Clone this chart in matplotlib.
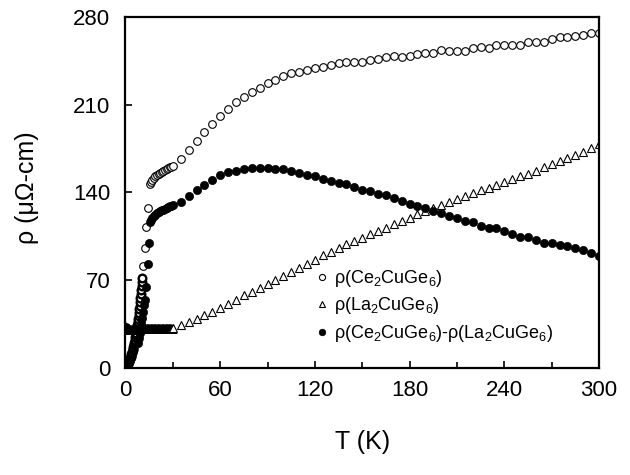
import matplotlib
matplotlib.use("Agg")
import matplotlib.pyplot as plt
from matplotlib.ticker import MultipleLocator

plt.rcParams['font.family'] = ['Liberation Sans', 'DejaVu Sans']
plt.rcParams['mathtext.fontset'] = 'custom'
plt.rcParams['mathtext.rm'] = 'Liberation Sans'
plt.rcParams['mathtext.it'] = 'Liberation Sans:italic'
plt.rcParams['mathtext.default'] = 'regular'

# ---------------- data ----------------
# rho(Ce2CuGe6): low-T dense part
ce_T_low = [0.5, 0.75, 1.0, 1.25, 1.5, 1.75, 2.0, 2.25, 2.5, 2.75, 3.0, 3.25,
            3.5, 3.75, 4.0, 4.25, 4.5, 4.75, 5.0, 5.25, 5.5, 5.75, 6.0, 6.25,
            6.5, 6.75, 7.0, 7.25, 7.5, 7.75, 8.0, 8.25, 8.5, 8.75, 9.0, 9.25,
            9.5, 9.75, 10.0, 10.25, 10.5, 10.75]
ce_rho_low = [0.8, 1.3, 1.8, 2.4, 3.0, 3.7, 4.4, 5.2, 6.0, 6.9, 7.8, 8.7,
              9.7, 10.8, 11.9, 13.0, 14.2, 15.5, 16.8, 18.2, 19.6, 21.1, 22.7,
              24.4, 26.2, 28.1, 30.1, 32.2, 34.4, 36.7, 39.1, 41.6, 44.2, 46.9,
              49.7, 52.6, 55.6, 58.7, 61.9, 65.2, 68.6, 72.0]
ce_T_tr = [11.0, 12.2, 13.3, 14.5]
ce_rho_tr = [81, 96, 112.7, 128]
# dense 15.5 - 30 K
ce_T_mid = [15.5, 16, 17, 18, 19, 20, 21, 22, 23, 24, 25, 26, 27, 28, 29, 30]
ce_rho_mid = [147, 148.3, 150, 151.5, 152.8, 154, 155, 155.8, 156.6, 157.3,
              158, 158.7, 159.4, 160, 160.6, 161.2]
# sparse 35 - 300 K
T_sparse = [35, 40, 45, 50, 55, 60, 65, 70, 75, 80, 85, 90, 95, 100, 105,
            110, 115, 120, 125, 130, 135, 140, 145, 150, 155, 160, 165, 170,
            175, 180, 185, 190, 195, 200, 205, 210, 215, 220, 225, 230, 235,
            240, 245, 250, 255, 260, 265, 270, 275, 280, 285, 290, 295, 300]
ce_rho_sparse = [167, 173.8, 181, 188, 194.5, 201, 207, 212, 216.3, 220, 223.5,
                 227, 230, 232.8, 235, 236.3, 237.6, 239, 240.2, 241.8, 243.2,
                 244.2, 244.3, 244.4, 246, 246.2, 248.3, 248.8, 248.4, 248.7,
                 250.8, 251, 251.1, 253.4, 253.1, 253, 253, 255.5, 255.7, 255.2,
                 257.8, 257.7, 257.6, 258, 260, 260.2, 260.2, 262.5, 264, 264.2,
                 264.9, 265.5, 267.2, 267.5]

# rho(La2CuGe6)
la_T_low = [0.5, 1.0, 1.5, 2.0, 2.5, 3.0, 3.5, 4.0, 4.5, 5.0, 5.5, 6.0, 6.5,
            7.0, 7.5, 8.0, 8.5, 9.0, 9.5, 10.0, 10.5, 11.0, 11.5, 12.0, 12.5,
            13.0, 13.5, 14.0, 14.5, 15.0, 15.5, 16.0, 16.5, 17.0, 17.5, 18.0,
            18.5, 19.0, 19.5, 20.0, 20.5, 21.0, 21.5, 22.0, 22.5, 23.0, 23.5,
            24.0, 24.5, 25.0, 25.5, 26.0, 26.5, 27.0, 27.5, 28.0, 28.5, 29.0,
            29.5]
la_rho_low = [33.0, 32.0, 31.5, 31.0, 30.8, 30.7, 30.6, 30.6, 30.6, 30.7, 30.7,
              30.7, 30.7, 30.7, 30.8, 30.8, 30.8, 30.8, 30.8, 30.9, 30.9, 30.9,
              30.9, 30.9, 30.9, 31.0, 31.0, 31.0, 31.0, 31.0, 31.0, 31.0, 31.0,
              31.1, 31.1, 31.1, 31.1, 31.1, 31.1, 31.1, 31.1, 31.2, 31.2, 31.2,
              31.2, 31.2, 31.2, 31.2, 31.2, 31.3, 31.3, 31.3, 31.3, 31.3, 31.3,
              31.4, 31.4, 31.4, 31.4]
la_T_sparse = [30] + T_sparse
la_rho_sparse = [31.5, 34, 36.7, 39.4, 42, 44.8, 48, 51.4, 54.6, 58, 61, 64, 67,
                 70, 73.3, 76.6, 80, 83.3, 86.5, 89.8, 92.5, 95.8, 98.6, 101.3,
                 104, 106.7, 109.3, 112, 114.6, 117.2, 119.8, 122.5, 125.5, 127.3,
                 129.8, 132.3, 134.6, 137, 139.2, 141.6, 143.9, 146.2, 148.7, 151,
                 153, 155, 157.5, 160, 162.6, 165, 167.5, 169.6, 172, 175.5, 178.3]

# rho(Ce2CuGe6) - rho(La2CuGe6)
d_T_low = [8.0, 8.5, 9.0, 9.5, 10.0, 10.5, 11.0, 11.5, 12.2, 13.2, 14.0, 14.6]
d_rho_low = [20, 24, 28, 32, 36, 40, 45, 50, 54, 65, 83, 100]
d_T_mid = ce_T_mid
d_rho_mid = [116.7, 118, 119.8, 121.2, 122.4, 123.4, 124.3, 125, 125.7, 126.4,
             127, 127.7, 128.3, 129, 129.6, 130.2]
d_rho_sparse = [132.6, 137, 141.6, 146, 150.2, 153.7, 156, 157.3, 158.4, 159.2,
                159.7, 159.5, 159, 158.4, 156.8, 155.4, 153.8, 153, 150.6, 149,
                147.4, 146.6, 144.2, 141.7, 140.8, 139, 137.8, 135.6, 133, 131,
                129.3, 127.6, 125, 124, 121.6, 119.7, 117.5, 116.8, 113.5, 111.7,
                111.4, 109.6, 106.6, 104.5, 104.2, 102, 99.7, 99.8, 98.3, 97.5,
                95.8, 93.8, 91.8, 89]

labels = [r'ρ(Ce$_2$CuGe$_6$)', r'ρ(La$_2$CuGe$_6$)',
          r'ρ(Ce$_2$CuGe$_6$)-ρ(La$_2$CuGe$_6$)']
x_ticks = [0, 60, 120, 180, 240, 300]
y_ticks = [0, 70, 140, 210, 280]

# ---------------- figure ----------------
fig = plt.figure(figsize=(6.3, 4.75), dpi=100)
ax = fig.add_axes([0.1992, 0.2253, 0.7516, 0.7389])

open_c = dict(marker='o', ls='none', mfc='white', mec='black', mew=0.8, ms=5.5)
tri = dict(marker='^', ls='none', mfc='white', mec='black', mew=0.8, ms=5.8)
fill_c = dict(marker='o', ls='none', mfc='black', mec='black', mew=0.5, ms=5.9)
dense_open = dict(open_c, mew=1.7)
dense_tri = dict(tri, mew=1.4)

ax.plot(ce_T_low, ce_rho_low, **dense_open)
ax.plot(ce_T_tr, ce_rho_tr, **open_c)
ax.plot(ce_T_mid, ce_rho_mid, **open_c)
h1, = ax.plot(T_sparse, ce_rho_sparse, label=labels[0], **open_c)

ax.plot(la_T_low, la_rho_low, **dense_tri)
h2, = ax.plot(la_T_sparse, la_rho_sparse, label=labels[1], **tri)

ax.plot(d_T_low, d_rho_low, **fill_c)
ax.plot(d_T_mid, d_rho_mid, **fill_c)
h3, = ax.plot(T_sparse, d_rho_sparse, label=labels[2], **fill_c)

ax.set_xlim(0, 300)
ax.set_ylim(0, 280)
ax.set_xticks(x_ticks)
ax.set_yticks(y_ticks)
ax.xaxis.set_minor_locator(MultipleLocator(30))
ax.tick_params(axis='both', which='both', direction='in', width=1.2,
               labelsize=16)
ax.tick_params(axis='both', which='major', length=5)
ax.tick_params(axis='both', which='minor', length=4)
ax.tick_params(axis='x', pad=9)
ax.tick_params(axis='y', pad=11)
for s in ax.spines.values():
    s.set_linewidth(1.6)

ax.set_xlabel('T (K)', fontsize=18)
ax.xaxis.label.set_va('center')
ax.xaxis.set_label_coords(0.5, -0.211)
ax.set_ylabel('ρ (μΩ-cm)', fontsize=18)
ax.yaxis.label.set_va('center')
ax.yaxis.set_label_coords(-0.208, 0.515)

leg = ax.legend(handles=[h1, h2, h3], loc='upper left',
                bbox_to_anchor=(315 / 630, 1 - 268 / 475),
                bbox_transform=fig.transFigure, frameon=False, fontsize=13,
                handlelength=0.8, handletextpad=0.25, borderpad=0,
                borderaxespad=0, labelspacing=0.36, markerscale=0.8)

fig.savefig('out.png', dpi=100, facecolor='white')
